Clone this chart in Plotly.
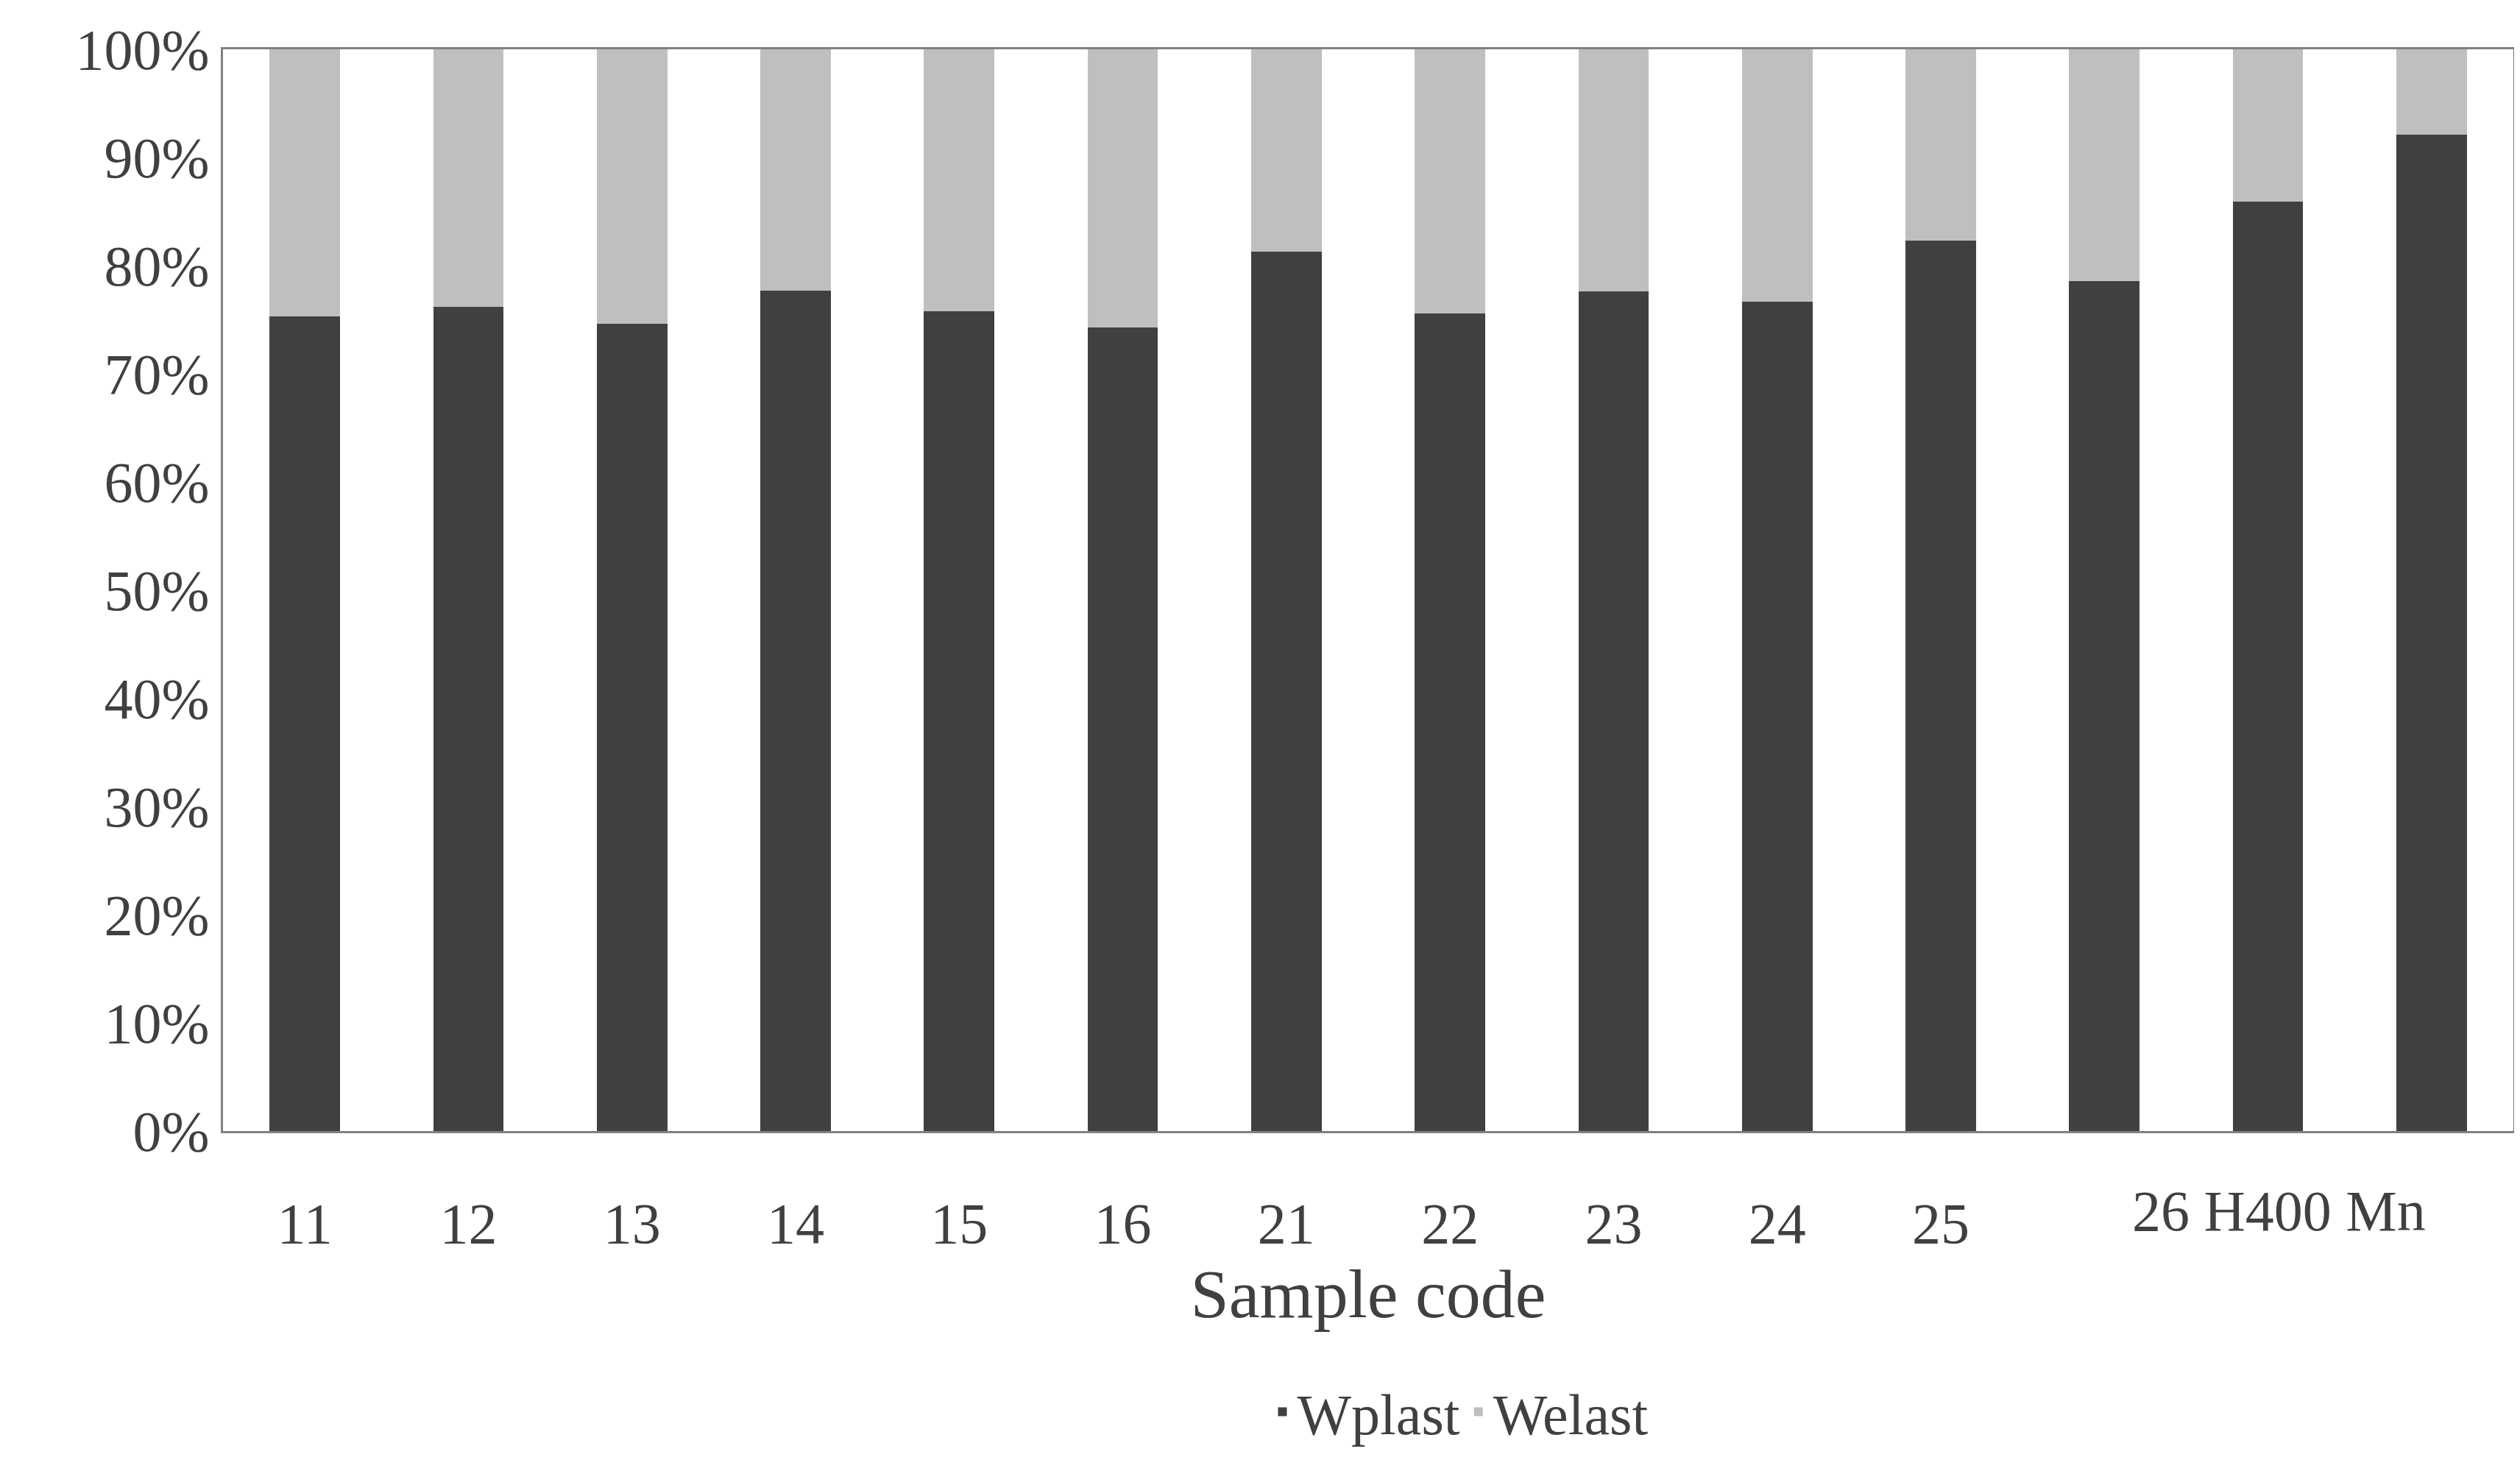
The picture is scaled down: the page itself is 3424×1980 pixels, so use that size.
import plotly.graph_objects as go

samples = ["11", "12", "13", "14", "15", "16", "21", "22", "23", "24", "25", "26", "H400", "Mn"]
wplast = [75.3, 76.2, 74.6, 77.7, 75.8, 74.3, 81.3, 75.6, 77.6, 76.7, 82.3, 78.6, 85.9, 92.1]
welast = [100 - v for v in wplast]

FONT = "Liberation Serif"

fig = go.Figure()
fig.add_trace(go.Bar(x=samples, y=wplast, name="Wplast", marker=dict(color="#404040", line=dict(width=0))))
fig.add_trace(go.Bar(x=samples, y=welast, name="Welast", marker=dict(color="#bfbfbf", line=dict(width=0))))

# last three labels run together in the original
tick_text = samples[:11] + ["", "", ""]
fig.add_annotation(x="H400", y=-0.074, xref="x", yref="paper", text="26 H400 Mn",
                   showarrow=False, yanchor="middle", xshift=15,
                   font=dict(family=FONT, size=78, color="#404040"))

fig.update_layout(
    barmode="stack",
    bargap=0.57,
    width=3424, height=1980,
    margin=dict(l=295, r=17, t=59, b=451, autoexpand=False),
    plot_bgcolor="white", paper_bgcolor="white",
    font=dict(family=FONT, size=78, color="#404040"),
    showlegend=True,
    legend=dict(orientation="h", x=0.54, xanchor="center", y=0.035, yanchor="middle",
                yref="container", traceorder="normal", font=dict(size=78)),
    xaxis=dict(tickvals=samples, ticktext=tick_text, showline=True, linecolor="#808080",
               linewidth=3, mirror=True, ticks="outside", ticklen=55, tickcolor="rgba(0,0,0,0)",
               title=dict(text="Sample code", standoff=10), automargin=False),
    yaxis=dict(range=[0, 100], dtick=10, ticksuffix="%", showgrid=False, showline=True,
               linecolor="#808080", linewidth=3, mirror=True, ticks="", zeroline=False,
               automargin=False),
)

fig.write_html("out.html")
